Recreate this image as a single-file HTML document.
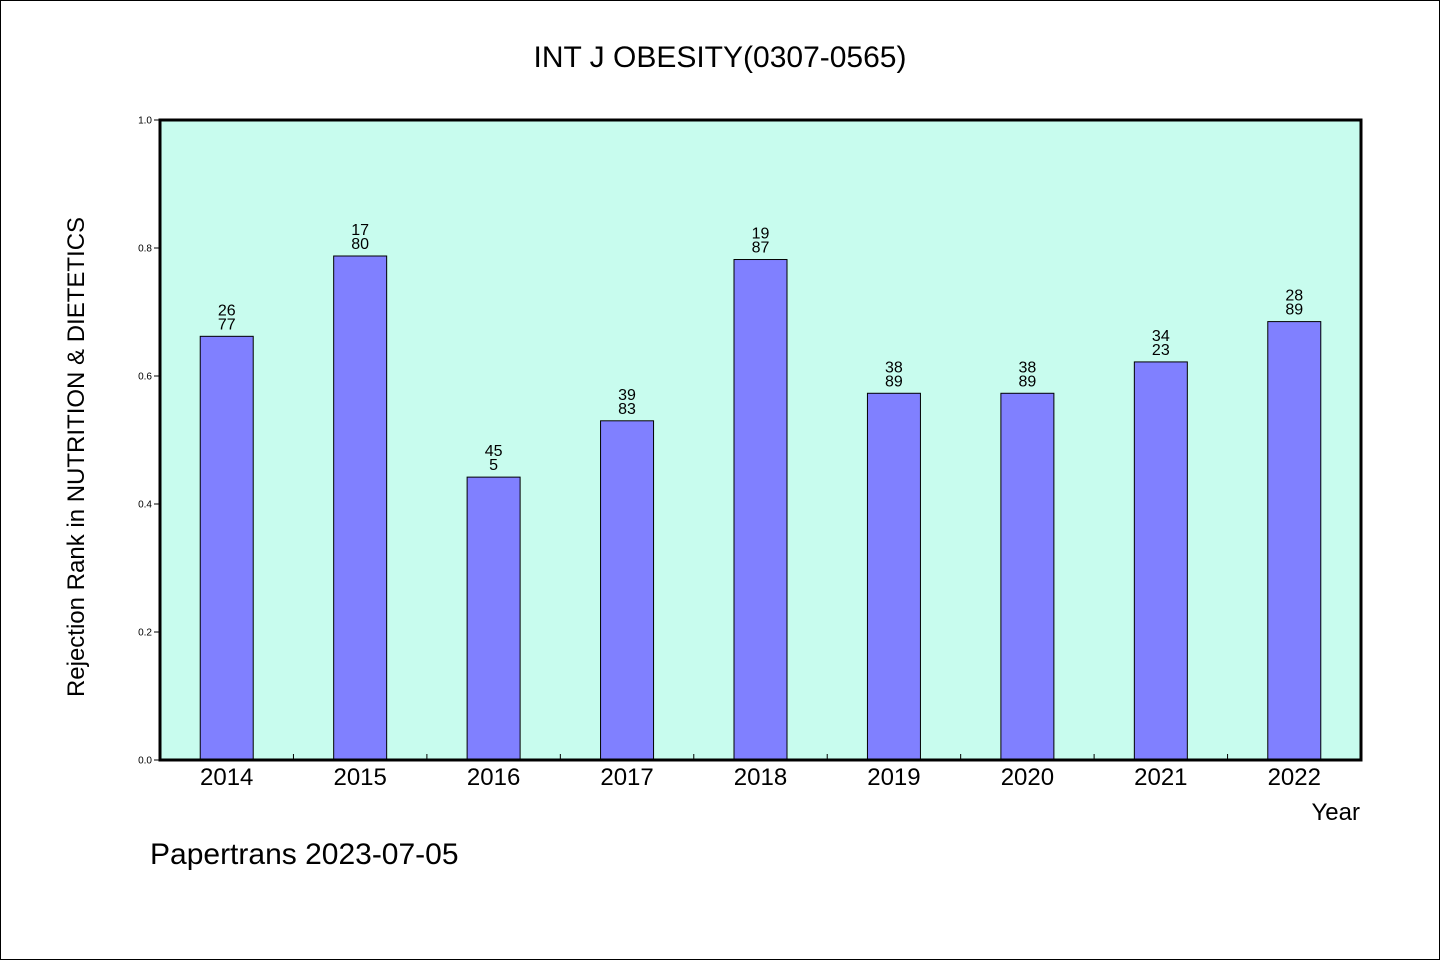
<!DOCTYPE html>
<html><head><meta charset="utf-8"><style>
body{margin:0;background:#fff}
svg{display:block;font-family:"WenQuanYi Zen Hei","Liberation Sans",sans-serif}
</style></head><body>
<svg width="1440" height="960">
<rect x="0.5" y="0.5" width="1439" height="959" fill="#fff" stroke="#000"/>
<text x="720" y="67" text-anchor="middle" font-size="30">INT J OBESITY(0307-0565)</text>
<rect x="160" y="120" width="1201" height="640" fill="#c8fcee"/>
<g id="bars"></g>
<rect x="160" y="120" width="1201" height="640" fill="none" stroke="#000" stroke-width="3"/>
<g id="axes"></g>
<text transform="translate(84,457) rotate(-90)" text-anchor="middle" font-size="24">Rejection Rank in NUTRITION &amp; DIETETICS</text>
<text x="1360" y="820" text-anchor="end" font-size="24">Year</text>
<text x="150" y="864" font-size="30">Papertrans 2023-07-05</text>
</svg>
<script>
const categories=["2014","2015","2016","2017","2018","2019","2020","2021","2022"];
const values=[0.662,0.7875,0.442,0.530,0.782,0.573,0.573,0.622,0.685];
const labelTop=["26","17","45","39","19","38","38","34","28"];
const labelBottom=["77","80","5","83","87","89","89","23","89"];
const yTicks=[0,0.2,0.4,0.6,0.8,1.0];
const NS="http://www.w3.org/2000/svg";
const X0=160,X1=1361,Y0=760,Y1=120;
const band=(X1-X0)/categories.length;
const xc=i=>X0+band*(i+0.5);
const y=v=>Y0-(Y0-Y1)*v;
function mk(t,a,p){const e=document.createElementNS(NS,t);for(const k in a)e.setAttribute(k,a[k]);p.appendChild(e);return e;}
const gb=document.getElementById('bars'),ga=document.getElementById('axes');
categories.forEach((c,i)=>{
 const r=mk('rect',{x:xc(i)-26.5,y:y(values[i]),width:53,height:Y0-y(values[i]),fill:'#8080ff',stroke:'#000','stroke-width':1},gb);
 
 
 const t1=mk('text',{x:xc(i),y:y(values[i])-21,'text-anchor':'middle','font-size':16},gb);t1.textContent=labelTop[i];
 
 
 const t2=mk('text',{x:xc(i),y:y(values[i])-7,'text-anchor':'middle','font-size':16},gb);t2.textContent=labelBottom[i];
 
 
 const xl=mk('text',{x:xc(i),y:785,'text-anchor':'middle','font-size':24},ga);xl.textContent=c;
 
 
 if(i>0){const tk=mk('line',{x1:X0+band*i,x2:X0+band*i,y1:Y0,y2:Y0-6,stroke:'#000'},ga);
 
 }
});
yTicks.forEach(v=>{
 const tk=mk('line',{x1:X0-6,x2:X0,y1:y(v),y2:y(v),stroke:'#000'},ga);
 
 
 const tl=mk('text',{x:X0-8,y:y(v)+3.5,'text-anchor':'end','font-size':10,'font-family':'Liberation Sans, sans-serif'},ga);tl.textContent=v.toFixed(1);
 
 
});
</script>
</body></html>
